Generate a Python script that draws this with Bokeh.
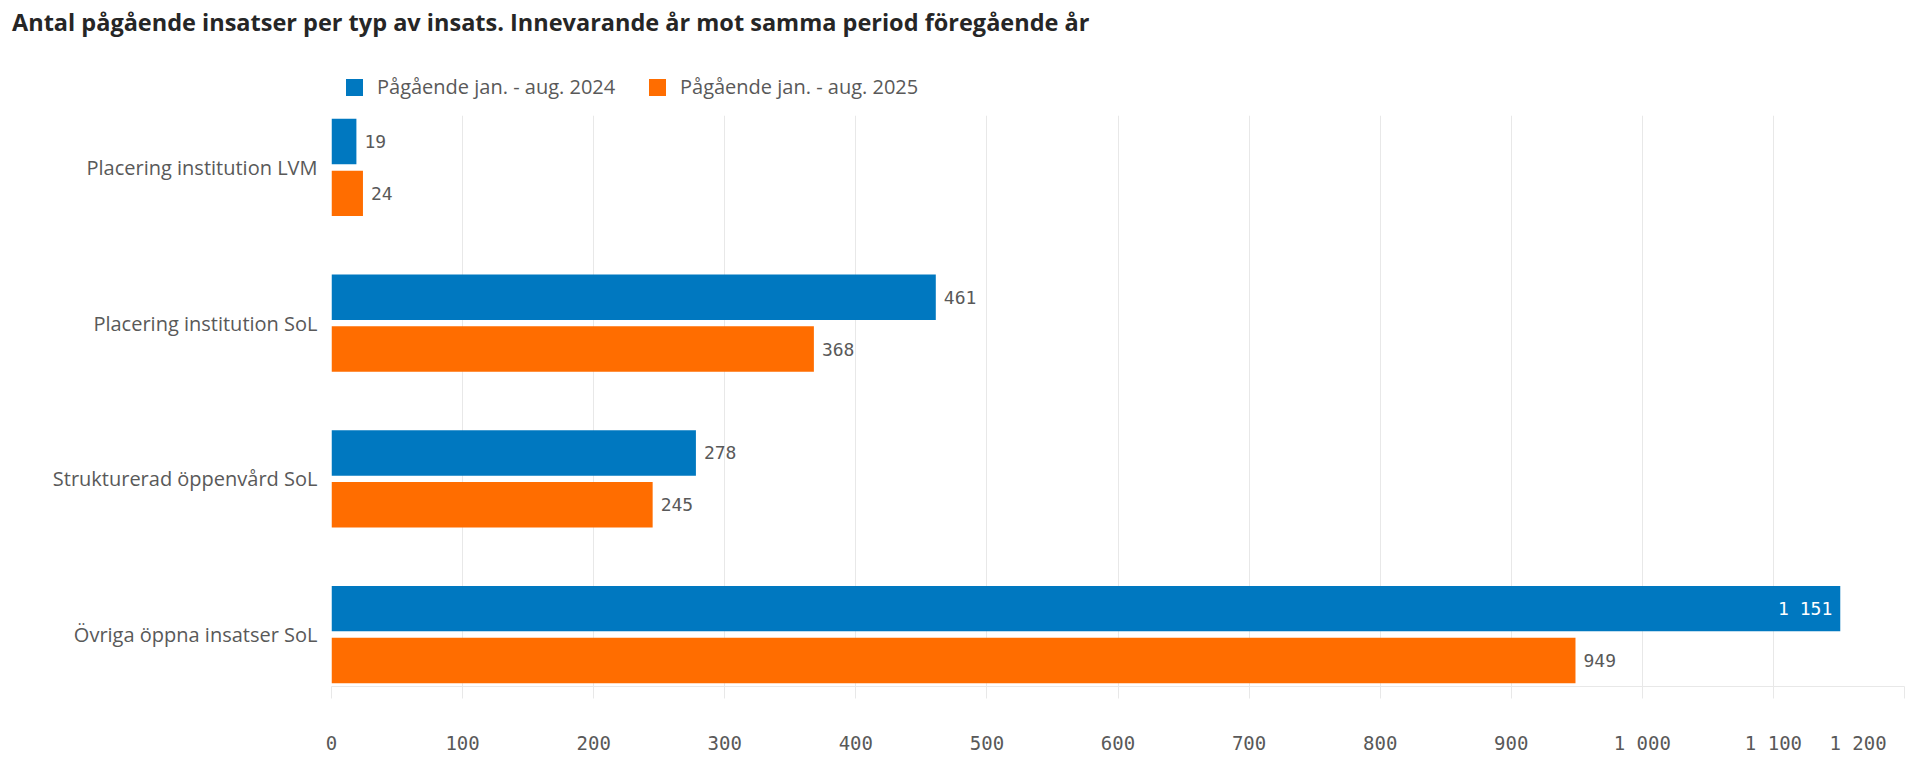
from bokeh.plotting import figure
from bokeh.models import (ColumnDataSource, FactorRange, Range1d, FixedTicker,
                          CategoricalAxis, Div)
from bokeh.layouts import column
from bokeh.core.properties import value
from bokeh.embed import file_html
from bokeh.resources import INLINE

# ---------------- data ----------------
title_text = ("Antal pågående insatser per typ av insats. "
              "Innevarande år mot samma period föregående år")
categories = ["Placering institution LVM",
              "Placering institution SoL",
              "Strukturerad öppenvård SoL",
              "Övriga öppna insatser SoL"]
series_keys = ["2024", "2025"]
series_names = ["Pågående jan. - aug. 2024", "Pågående jan. - aug. 2025"]
values_2024 = [19, 461, 278, 1151]
values_2025 = [24, 368, 245, 949]
x_ticks = [0, 100, 200, 300, 400, 500, 600, 700, 800, 900, 1000, 1100, 1200]
x_tick_labels = ["0", "100", "200", "300", "400", "500", "600", "700",
                 "800", "900", "1 000", "1 100", "1 200"]
x_max = 1200

# ---------------- style ----------------
BLUE = "#0078C0"
ORANGE = "#FF6D00"
TEXT = "#595959"
GRID = "#e8e8e8"
SANS = "Open Sans"
MONO = "DejaVu Sans Mono"
colors = [BLUE, ORANGE]

W = 1909
HEAD_H = 115
H = 641
FRAME_L, FRAME_R, FRAME_B = 331, 5, 62
frame_w = W - FRAME_L - FRAME_R


def fmt(v):
    return f"{v:,}".replace(",", " ")


def label_cols(vals):
    labs, aligns, offs, cols = [], [], [], []
    for v in vals:
        room = (x_max - v) * frame_w / x_max
        inside = room < 70
        labs.append(fmt(v))
        aligns.append("right" if inside else "left")
        offs.append(-8 if inside else 8)
        cols.append("#ffffff" if inside else TEXT)
    return labs, aligns, offs, cols


l1, a1, o1, c1 = label_cols(values_2024)
l2, a2, o2, c2 = label_cols(values_2025)

src = ColumnDataSource(dict(
    cat=categories,
    y2024=[(c, series_keys[0]) for c in categories],
    y2025=[(c, series_keys[1]) for c in categories],
    v2024=values_2024, v2025=values_2025,
    lab2024=l1, al2024=a1, off2024=o1, col2024=c1,
    lab2025=l2, al2025=a2, off2025=o2, col2025=c2,
))

# ---------------- header: title + legend ----------------
legend_x = [346, 649]          # square positions (px) inside the header
legend_html = ""
for i, name in enumerate(series_names):
    legend_html += (
        f'<div style="position:absolute;left:{legend_x[i]}px;top:79px;'
        f'width:17px;height:17px;background:{colors[i]}"></div>'
        f'<div style="position:absolute;left:{legend_x[i] + 31}px;top:72px;'
        f'font-size:20px;line-height:30px;color:{TEXT};white-space:nowrap">'
        f'{name}</div>')
header_html = (
    f'<div style="position:relative;width:{W}px;height:{HEAD_H}px;'
    f"font-family:'{SANS}',sans-serif;\">"
    f'<div style="position:absolute;left:12px;top:8px;font-size:23.5px;'
    f'font-weight:bold;color:#262626;line-height:28px;white-space:nowrap">'
    f'{title_text}</div>' + legend_html + '</div>')
header = Div(text=header_html, width=W, height=HEAD_H, margin=0)

# ---------------- chart ----------------
nested = [(c, s) for c in reversed(categories) for s in reversed(series_keys)]
y_range = FactorRange(factors=nested, group_padding=1.0, factor_padding=0.0,
                      range_padding=0.0)

p = figure(width=W, height=H, y_range=y_range, x_range=Range1d(0, x_max),
           output_backend="svg", toolbar_location=None,
           min_border_left=FRAME_L, min_border_right=FRAME_R,
           min_border_top=0, min_border_bottom=FRAME_B, margin=0)
p.extra_y_ranges = {"cats": FactorRange(factors=list(reversed(categories)),
                                        range_padding=-1.0 / 12)}

BAR_H = 0.876
p.hbar(y="y2024", left=0, right="v2024", height=BAR_H, source=src,
       fill_color=BLUE, line_color=None)
p.hbar(y="y2025", left=0, right="v2025", height=BAR_H, source=src,
       fill_color=ORANGE, line_color=None)

p.text(x="v2024", y="y2024", text="lab2024", x_offset="off2024",
       text_align="al2024", text_color="col2024", text_baseline="middle",
       text_font=value(MONO), text_font_size="18px", source=src)
p.text(x="v2025", y="y2025", text="lab2025", x_offset="off2025",
       text_align="al2025", text_color="col2025", text_baseline="middle",
       text_font=value(MONO), text_font_size="18px", source=src)

# y axis: category names on the flat range
p.yaxis.visible = False
cat_axis = CategoricalAxis(y_range_name="cats")
cat_axis.axis_line_color = None
cat_axis.major_tick_line_color = None
cat_axis.minor_tick_line_color = None
cat_axis.major_label_text_font = SANS
cat_axis.major_label_text_font_size = "20px"
cat_axis.major_label_text_color = TEXT
cat_axis.major_label_standoff = 8
p.add_layout(cat_axis, "left")

# x axis
ticker = FixedTicker(ticks=x_ticks)
p.xaxis.ticker = ticker
overrides = {t: lab for t, lab in zip(x_ticks, x_tick_labels)}
# last label sits right-aligned on its grid line (padding keeps it inside)
overrides[x_ticks[-1]] = x_tick_labels[-1] + "\u00a0" * 2
p.xaxis.major_label_overrides = overrides
p.xaxis.axis_line_color = GRID
p.xaxis.major_tick_line_color = GRID
p.xaxis.major_tick_out = 12
p.xaxis.major_tick_in = 0
p.xaxis.minor_tick_line_color = None
p.xaxis.major_label_text_font = MONO
p.xaxis.major_label_text_font_size = "19px"
p.xaxis.major_label_text_color = TEXT
p.xaxis.major_label_standoff = 33

p.xgrid.ticker = ticker
p.xgrid.grid_line_color = GRID
p.ygrid.grid_line_color = None
p.outline_line_color = None

layout = column(header, p, margin=0)
open("out.html", "w").write(file_html(layout, INLINE))
